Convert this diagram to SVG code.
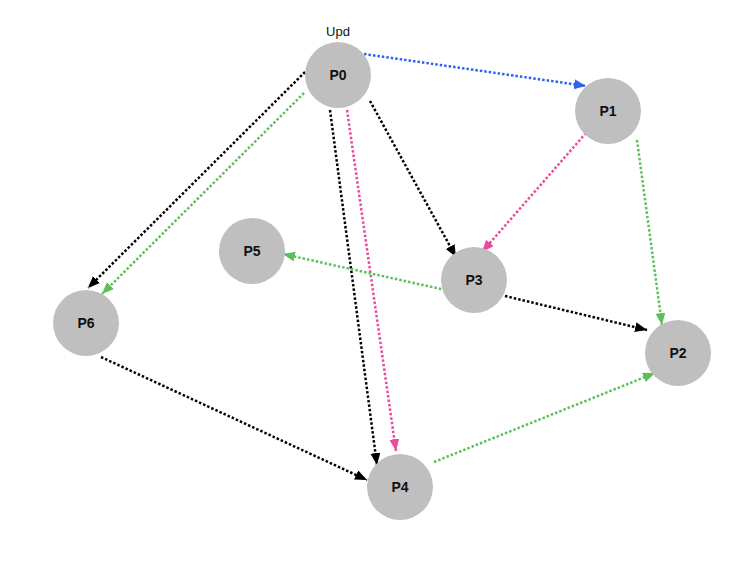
<svg xmlns="http://www.w3.org/2000/svg" width="756" height="567" viewBox="0 0 756 567">
<style>
.node circle{fill:#bfbfbf}
.node text{font-family:"Liberation Sans",Arial,sans-serif;font-size:14px;font-weight:bold;fill:#111;text-anchor:middle;dominant-baseline:central}
.lbl{font-family:"Liberation Sans",Arial,sans-serif;font-size:13px;fill:#111;text-anchor:middle}
.e{fill:none;stroke-width:2.5;stroke-dasharray:2.5 2}
.k{stroke:#000}
.b{stroke:#2f62f0}
.p{stroke:#ea4a9c}
.g{stroke:#5cc05a}
</style>
<defs>
<marker id="ak" markerUnits="userSpaceOnUse" markerWidth="13" markerHeight="11" refX="12" refY="5" orient="auto"><path d="M0,0 L12,5 L0,10 Z" fill="#000"/></marker>
<marker id="ab" markerUnits="userSpaceOnUse" markerWidth="13" markerHeight="11" refX="12" refY="5" orient="auto"><path d="M0,0 L12,5 L0,10 Z" fill="#2f62f0"/></marker>
<marker id="ap" markerUnits="userSpaceOnUse" markerWidth="13" markerHeight="11" refX="12" refY="5" orient="auto"><path d="M0,0 L12,5 L0,10 Z" fill="#ea4a9c"/></marker>
<marker id="ag" markerUnits="userSpaceOnUse" markerWidth="13" markerHeight="11" refX="12" refY="5" orient="auto"><path d="M0,0 L12,5 L0,10 Z" fill="#5cc05a"/></marker>
</defs>
<rect width="756" height="567" fill="#fff"/>
<g id="connectors">
<line class="e b" x1="364" y1="54" x2="586" y2="86" marker-end="url(#ab)"/>
<line class="e p" x1="586" y1="133" x2="482" y2="252" marker-end="url(#ap)"/>
<line class="e g" x1="637" y1="140" x2="662" y2="325" marker-end="url(#ag)"/>
<line class="e k" x1="370" y1="101" x2="456" y2="257" marker-end="url(#ak)"/>
<line class="e k" x1="305" y1="72" x2="88" y2="288" marker-end="url(#ak)"/>
<line class="e g" x1="304" y1="93" x2="102" y2="294" marker-end="url(#ag)"/>
<line class="e k" x1="330" y1="110" x2="377" y2="465" marker-end="url(#ak)"/>
<line class="e p" x1="347" y1="110" x2="396" y2="451" marker-end="url(#ap)"/>
<line class="e g" x1="450" y1="291" x2="283" y2="254" marker-end="url(#ag)"/>
<line class="e k" x1="505" y1="296" x2="647" y2="330" marker-end="url(#ak)"/>
<line class="e k" x1="101" y1="357" x2="367" y2="480" marker-end="url(#ak)"/>
<line class="e g" x1="434" y1="462" x2="655" y2="373" marker-end="url(#ag)"/>
</g>
<text class="lbl" x="338" y="36">Upd</text>
<g id="P0" class="node"><circle cx="338" cy="75" r="33"/><text x="338" y="75">P0</text></g>
<g id="P1" class="node"><circle cx="608" cy="111" r="33"/><text x="608" y="111">P1</text></g>
<g id="P2" class="node"><circle cx="678" cy="353" r="33"/><text x="678" y="353">P2</text></g>
<g id="P3" class="node"><circle cx="474" cy="280" r="33"/><text x="474" y="280">P3</text></g>
<g id="P4" class="node"><circle cx="400" cy="487" r="33"/><text x="400" y="487">P4</text></g>
<g id="P5" class="node"><circle cx="252" cy="251" r="33"/><text x="252" y="251">P5</text></g>
<g id="P6" class="node"><circle cx="86" cy="323" r="33"/><text x="86" y="323">P6</text></g>
</svg>
